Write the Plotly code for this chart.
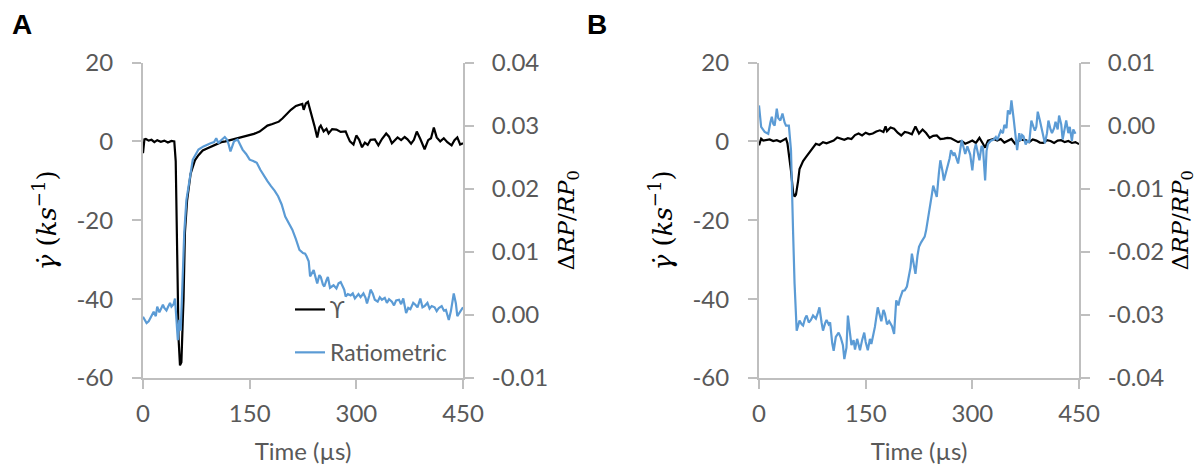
import plotly.graph_objects as go

# ---------------- Data ----------------
# Panel A: shear rate (ks^-1), left axis
tA_black = [0, 2, 4, 8, 12, 16, 20, 25, 30, 35, 40, 44, 46, 48, 50, 52, 54, 56, 57, 59, 62, 67, 73,
            78, 84, 90, 100, 110, 116, 124, 132, 140, 148, 156, 164, 170, 175, 182, 191, 196, 202,
            208, 215, 220, 224, 226, 229, 232, 235, 237, 241, 245, 248, 250, 254, 258, 261, 266,
            272, 278, 285, 288, 291, 296, 300, 304, 308, 312, 316, 320, 326, 331, 336, 342, 346,
            350, 354, 358, 363, 368, 372, 377, 381, 385, 390, 396, 401, 405, 409, 413, 418, 423,
            428, 434, 438, 442, 446, 450]
vA_black = [-3, 0.5, 0.6, 0.2, 0.4, -0.2, 0.3, -0.1, 0.2, -0.3, 0.1, 0, -5, -30, -50, -56.8, -56, -45,
            -40, -23, -15, -8.2, -4.8, -3.5, -2.3, -1.8, -1, -0.2, 0, 0.4, 0.8, 1.1, 1.5, 1.9, 2.5,
            3.2, 4, 4.4, 5, 5.8, 7, 8, 9, 9.3, 9.5, 8, 9.6, 10, 8.2, 7, 4, 1, 3.5, 4, 2.5, 3.2, 2,
            3.1, 3, 2.4, 2.5, 1.2, 0, -0.8, 1.5, 0.4, -1.5, -0.3, -0.9, 0.4, 0.5, -1, 0.6, 2, 1.2,
            -0.5, 0.4, 1, 0.3, 1.1, 0.5, -0.6, 0.4, 2.5, 0.6, -2, 0.3, 0.8, 3.5, 1, 0, 0.8, -0.2,
            -1, 0.3, 1, -0.8, -0.5]

# Panel A: ratiometric signal, right axis
tA_blue = [0, 3, 5, 8, 10, 13, 15, 18, 20, 23, 25, 28, 30, 33, 35, 38, 40, 43, 45, 47, 49, 51, 53,
           55, 58, 61, 65, 70, 78, 85, 95, 100, 103, 106, 108, 112, 115, 118, 120, 123, 126, 128,
           133, 137, 140, 145, 150, 155, 160, 165, 170, 175, 180, 185, 190, 195, 200, 205, 210,
           215, 220, 225, 228, 230, 233, 235, 238, 240, 243, 245, 248, 250, 253, 255, 258, 260,
           263, 265, 268, 272, 275, 278, 280, 283, 285, 288, 292, 295, 298, 300, 303, 306, 310,
           313, 315, 318, 320, 323, 326, 330, 333, 336, 340, 343, 346, 350, 353, 356, 360, 363,
           366, 370, 373, 376, 380, 383, 386, 390, 393, 396, 400, 403, 406, 410, 413, 416, 420,
           423, 426, 430, 433, 437, 440, 442, 446, 450]
vA_blue = [-0.0003, -0.0008, -0.0013, -0.001, -0.0005, 0.0002, 0.0005, -0.0002, 0.0013, 0.0004,
           0.0008, 0.0016, 0.0011, 0.0007, 0.0012, 0.0019, 0.0013, 0.0017, 0.0026, -0.0003, -0.004,
           -0.0008, -0.0025, 0.0034, 0.013, 0.0182, 0.0214, 0.0246, 0.0262, 0.0267, 0.0272, 0.0274,
           0.028, 0.0272, 0.0275, 0.0279, 0.0282, 0.0278, 0.0272, 0.0259, 0.0268, 0.0275, 0.0278,
           0.0268, 0.0262, 0.0255, 0.0246, 0.0244, 0.0241, 0.023, 0.022, 0.0212, 0.0204, 0.0197,
           0.0188, 0.0175, 0.0156, 0.0145, 0.0135, 0.012, 0.0103, 0.0098, 0.0097, 0.0093, 0.0085,
           0.0061, 0.0068, 0.0071, 0.0058, 0.005, 0.0063, 0.006, 0.0048, 0.0045, 0.0055, 0.006,
           0.0043, 0.0045, 0.0047, 0.0042, 0.005, 0.0052, 0.0048, 0.004, 0.0029, 0.0033, 0.0031,
           0.0034, 0.0026, 0.0029, 0.0033, 0.0028, 0.0034, 0.0027, 0.0018, 0.003, 0.004, 0.0034,
           0.0024, 0.0021, 0.0028, 0.0024, 0.0027, 0.0019, 0.0025, 0.0021, 0.0015, 0.0023, 0.0024,
           0.0017, 0.0026, 0.0003, 0.0011, 0.0009, 0.0019, 0.0016, 0.0012, 0.0026, 0.0012, 0.0014,
           0.0019, 0.001, 0.0014, 0.0012, 0.0006, 0.0011, 0.0014, 0.0007, 0.0008, -0.0008, 0.0006,
           0.0034, 0.0018, -0.0002, 0.0005, 0.0012]

# Panel B: shear rate (ks^-1), left axis
tB_black = [0, 3, 6, 10, 15, 20, 25, 30, 34, 38, 40, 42, 45, 48, 50, 52, 53, 55, 57, 60, 62, 66, 70,
            75, 80, 85, 90, 95, 100, 105, 110, 115, 120, 125, 130, 135, 140, 145, 150, 155, 160,
            165, 170, 175, 178, 180, 185, 190, 195, 200, 205, 210, 215, 220, 225, 230, 235, 240,
            245, 250, 255, 260, 265, 270, 275, 280, 285, 290, 295, 300, 305, 310, 315, 318, 322,
            325, 330, 335, 340, 345, 350, 355, 360, 365, 370, 375, 380, 385, 390, 395, 400, 405,
            410, 415, 420, 425, 430, 435, 440, 445, 450]
vB_black = [-1, 0.7, 0.2, 0.3, 0.5, 0.1, 0.3, -0.1, 0.4, 0.7, -0.5, -3, -7.5, -13, -14, -13.5, -12.5,
            -10, -7, -5.6, -5, -4, -3, -2, -0.6, -0.9, -0.2, -0.5, -0.2, 0.2, 1, 0.6, 0.4, 0.8, 0.6,
            1.6, 2, 1.5, 2.2, 1.8, 2, 2.5, 2.8, 2.4, 3.8, 2.6, 3.5, 3.2, 2.2, 1.5, 2.4, 2.2, 1.8,
            3.8, 2, 3, 2.1, 0.9, 1.4, 1.5, 0.6, 0.7, 0.9, 0.8, 0.2, -0.2, 0.1, -0.6, -0.2, 0.2, -0.4,
            0.9, -0.6, -1.6, 0.2, 0.3, 0.6, 0.2, 0.6, -0.3, 0.1, 0.6, -0.6, 0.2, 0.4, 0.3, -0.2,
            0.5, 0.2, -0.3, -0.4, 0.3, 0.1, -0.4, 0.2, 0.3, -0.2, 0.1, -0.4, -0.2, -0.7]

# Panel B: ratiometric signal, right axis
tB_blue = [0, 3, 8, 13, 16, 18, 20, 22, 25, 27, 30, 33, 36, 38, 42, 45, 48, 50, 53, 55, 57, 60, 62,
           65, 67, 70, 73, 76, 80, 83, 85, 88, 90, 93, 95, 98, 100, 103, 105, 108, 112, 115, 118,
           120, 123, 125, 128, 130, 133, 135, 138, 142, 145, 148, 150, 153, 156, 158, 161, 163,
           167, 170, 172, 175, 177, 180, 183, 187, 190, 193, 196, 198, 202, 205, 208, 210, 213,
           215, 218, 220, 223, 225, 228, 230, 233, 235, 238, 240, 243, 245, 248, 250, 253, 255,
           258, 260, 263, 265, 268, 270, 273, 275, 278, 280, 283, 285, 288, 290, 293, 295, 297,
           300, 303, 305, 308, 310, 313, 315, 318, 320, 322, 326, 330, 333, 335, 338, 340, 343,
           345, 348, 350, 353, 355, 358, 360, 363, 366, 368, 370, 372, 375, 378, 380, 383, 386,
           388, 390, 392, 395, 397, 400, 402, 405, 407, 410, 412, 415, 417, 420, 422, 425, 427,
           430, 432, 435, 437, 440, 442, 445, 447, 450]
vB_blue = [0.0032, -0.0002, -0.001, -0.0013, 0.0005, 0.0014, 0.0003, 0.0, 0.0027, 0.0012, 0.0008,
           0.0019, 0.0005, 0.0, 0.0, -0.0039, -0.0171, -0.025, -0.0325, -0.0318, -0.0309, -0.0315,
           -0.0317, -0.0305, -0.0301, -0.0312, -0.0308, -0.0301, -0.0306, -0.0296, -0.0288,
           -0.0312, -0.0325, -0.0313, -0.0308, -0.0315, -0.0312, -0.0345, -0.0357, -0.0335, -0.0328,
           -0.0336, -0.0348, -0.037, -0.0352, -0.0301, -0.0335, -0.0348, -0.034, -0.0355, -0.0338,
           -0.0356, -0.034, -0.0328, -0.0343, -0.0356, -0.0338, -0.0346, -0.033, -0.0319, -0.0288,
           -0.0302, -0.031, -0.0292, -0.0298, -0.0315, -0.031, -0.0318, -0.033, -0.0277, -0.0285,
           -0.0275, -0.0262, -0.0261, -0.0255, -0.0243, -0.0225, -0.0203, -0.0226, -0.0235,
           -0.0205, -0.0192, -0.0185, -0.0182, -0.0176, -0.0166, -0.0142, -0.0129, -0.011, -0.0095,
           -0.0104, -0.0113, -0.0075, -0.0055, -0.0072, -0.0087, -0.0074, -0.0066, -0.0052,
           -0.0039, -0.0046, -0.0043, -0.0052, -0.006, -0.0038, -0.0023, -0.0036, -0.0045,
           -0.0033, -0.004, -0.0046, -0.0071, -0.0038, -0.0029, -0.0047, -0.0055, -0.0032, -0.0036,
           -0.0087, -0.004, -0.0029, -0.0024, -0.0022, -0.0018, -0.0023, -0.0014, -0.0008, -0.0012,
           0.0001, -0.0004, 0.0024, 0.0018, 0.004, 0.0012, -0.0008, -0.0039, -0.0012, -0.0024,
           -0.0015, -0.0017, -0.003, -0.0023, -0.0027, 0.0008, -0.0002, -0.0008, -0.0002, 0.0022,
           0.0008, -0.0002, -0.0015, -0.0028, -0.0012, 0.0008, -0.0006, -0.0012, -0.0004, 0.0006,
           -0.0006, 0.0016, 0.0002, -0.0022, -0.0004, 0.0008, -0.0012, -0.0002, -0.0024, -0.0006,
           -0.0013]

x_ticks = [0, 150, 300, 450]
x_ticktext = ["0", "150", "300", "450"]
yL_ticks = [-60, -40, -20, 0, 20]
yL_ticktext = ["-60", "-40", "-20", "0", "20"]
yRA_ticks = [-0.01, 0.0, 0.01, 0.02, 0.03, 0.04]
yRA_ticktext = ["-0.01", "0.00", "0.01", "0.02", "0.03", "0.04"]
yRB_ticks = [-0.04, -0.03, -0.02, -0.01, 0.0, 0.01]
yRB_ticktext = ["-0.04", "-0.03", "-0.02", "-0.01", "0.00", "0.01"]

legend_names = ["ϒ", "Ratiometric"]
panel_labels = ["A", "B"]
x_title = "Time (µs)"
yL_title = "<i>γ̇</i>\u00a0(<i>ks</i><sup>−1</sup>)"
yR_title = "Δ<i>RP</i>/<i>RP</i><sub>0</sub>"

# ---------------- Styling ----------------
W, H = 1203, 465
BLACK = "#000000"
BLUE = "#5B9BD5"
AX = "#BFBFBF"
TXT = "#595959"
SANS = "Lato, Open Sans, sans-serif"
TICKFONT = dict(family=SANS, size=24, color=TXT)
MATHFONT_L = dict(family="DejaVu Serif, Liberation Serif, serif", size=26, color="#000000")
MATHFONT_R = dict(family="DejaVu Serif, Liberation Serif, serif", size=23, color="#000000")

def px_x(p):
    return p / W

def px_y(p):
    return 1 - p / H

ydom = [px_y(378), px_y(62.5)]
domA = [px_x(143), px_x(463)]
domB = [px_x(759), px_x(1079)]

fig = go.Figure()
fig.add_trace(go.Scatter(x=tA_black, y=vA_black, mode="lines", name=legend_names[0],
                         line=dict(color=BLACK, width=2.2), xaxis="x", yaxis="y",
                         legendgroup="g1"))
fig.add_trace(go.Scatter(x=tA_blue, y=vA_blue, mode="lines", name=legend_names[1],
                         line=dict(color=BLUE, width=2.2), xaxis="x", yaxis="y2",
                         legendgroup="g2"))
fig.add_trace(go.Scatter(x=tB_blue, y=vB_blue, mode="lines", name=legend_names[1],
                         line=dict(color=BLUE, width=2.2), xaxis="x2", yaxis="y4",
                         showlegend=False))
fig.add_trace(go.Scatter(x=tB_black, y=vB_black, mode="lines", name=legend_names[0],
                         line=dict(color=BLACK, width=2.2), xaxis="x2", yaxis="y3",
                         showlegend=False))

common_x = dict(range=[0, 450], tickvals=x_ticks, ticktext=x_ticktext, showline=True,
                linecolor=AX, linewidth=2, ticks="outside", ticklen=9, tickwidth=2,
                tickcolor=AX, showgrid=False, zeroline=False, tickfont=TICKFONT,
                ticklabelstandoff=4, automargin=False,
                title=dict(text=x_title, font=dict(family=SANS, size=24, color=TXT), standoff=26))
common_y = dict(showline=True, linecolor=AX, linewidth=2, ticks="outside", ticklen=9,
                tickwidth=2, tickcolor=AX, showgrid=False, zeroline=False, tickfont=TICKFONT,
                domain=ydom, automargin=False)

fig.update_layout(
    width=W, height=H,
    margin=dict(l=0, r=0, t=0, b=0, autoexpand=False),
    paper_bgcolor="white", plot_bgcolor="white",
    xaxis=dict(domain=domA, anchor="y", **common_x),
    xaxis2=dict(domain=domB, anchor="y3", **common_x),
    yaxis=dict(anchor="x", range=[-60, 20], tickvals=yL_ticks, ticktext=yL_ticktext,
               ticklabelstandoff=14, title=dict(text=yL_title, font=MATHFONT_L, standoff=12),
               **common_y),
    yaxis2=dict(anchor="x", overlaying="y", side="right", range=[-0.01, 0.04],
                tickvals=yRA_ticks, ticktext=yRA_ticktext, ticklabelstandoff=13,
                title=dict(text=yR_title, font=MATHFONT_R, standoff=11), **common_y),
    yaxis3=dict(anchor="x2", range=[-60, 20], tickvals=yL_ticks, ticktext=yL_ticktext,
                ticklabelstandoff=14, title=dict(text=yL_title, font=MATHFONT_L, standoff=12),
                **common_y),
    yaxis4=dict(anchor="x2", overlaying="y3", side="right", range=[-0.04, 0.01],
                tickvals=yRB_ticks, ticktext=yRB_ticktext, ticklabelstandoff=13,
                title=dict(text=yR_title, font=MATHFONT_R, standoff=9), **common_y),
    showlegend=True,
    legend=dict(x=px_x(290), y=px_y(288), xanchor="left", yanchor="top",
                bgcolor="rgba(0,0,0,0)", font=dict(family=SANS, size=23, color=TXT),
                traceorder="grouped", tracegroupgap=10, itemwidth=30),
    annotations=[
        dict(text="<b>%s</b>" % panel_labels[0], x=px_x(10), y=px_y(24), xref="paper",
             yref="paper", xanchor="left", yanchor="middle", showarrow=False,
             font=dict(family="Liberation Sans, Arial, sans-serif", size=28, color="#000")),
        dict(text="<b>%s</b>" % panel_labels[1], x=px_x(585), y=px_y(24), xref="paper",
             yref="paper", xanchor="left", yanchor="middle", showarrow=False,
             font=dict(family="Liberation Sans, Arial, sans-serif", size=28, color="#000")),
    ],
)

fig.write_html("out.html")
